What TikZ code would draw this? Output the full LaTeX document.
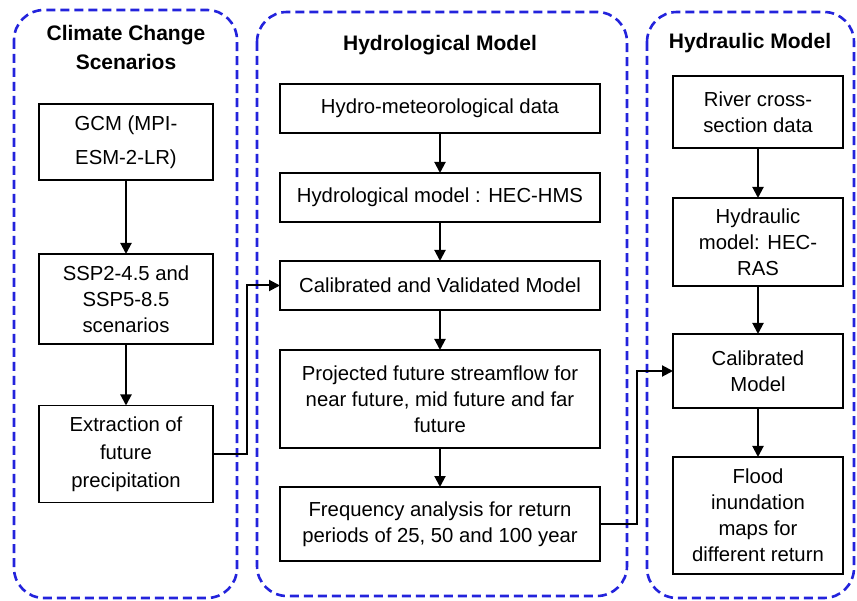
\documentclass[tikz,border=0pt]{standalone}
\usepackage{fontspec}
\setmainfont{Liberation Sans}
\usetikzlibrary{arrows.meta}
\definecolor{groupblue}{RGB}{35,35,220}
\tikzset{
  group/.style={draw=groupblue, line width=2.6pt, dash pattern=on 9pt off 5pt, rounded corners=30pt},
  title/.style={font=\fontsize{21}{29}\selectfont\bfseries, align=center, inner sep=0pt},
  box/.style={draw, line width=1.4pt, align=center, inner sep=0pt, outer sep=0pt,
    font=\fontsize{20.3}{26}\selectfont},
  flow/.style={line width=2pt, -{Triangle[length=11pt,width=11pt]}}
}
\begin{document}
\begin{tikzpicture}[x=1pt,y=-1pt]
      \useasboundingbox (0,0) rectangle (857,601);
      % the three groups
      \draw[group] (14,10) rectangle (237,598);
      \draw[group] (257,12) rectangle (627,596);
      \draw[group] (647,12) rectangle (854,598);
      \node[title] (t1) at (126,47) {Climate Change\\Scenarios};
      \node[title] (t2) at (440,45) {Hydrological Model};
      \node[title] (t3) at (750,43) {Hydraulic Model};
      % climate change scenarios
      \node[box, minimum width=174pt, minimum height=76pt] (gcm) at (126,142) {GCM (MPI-\\[8pt]ESM-2-LR)};
      \node[box, minimum width=174pt, minimum height=90pt] (ssp) at (126,299) {SSP2-4.5 and\\SSP5-8.5\\scenarios};
      \node[box, minimum width=174pt, minimum height=97pt] (extr) at (126,454) {Extraction of\\[2pt]future\\[2pt]precipitation};
      % hydrological model
      \node[box, minimum width=320pt, minimum height=49pt] (hydro) at (440,108.5) {Hydro-meteorological data};
      \node[box, minimum width=320pt, minimum height=49pt] (hms) at (440,197.5) {Hydrological model : HEC-HMS};
      \node[box, minimum width=320pt, minimum height=49pt] (calib) at (440,285.5) {Calibrated and Validated Model};
      \node[box, minimum width=320pt, minimum height=98pt] (proj) at (440,399) {Projected future streamflow for\\near future, mid future and far\\future};
      \node[box, minimum width=320pt, minimum height=74pt] (freq) at (440,524) {Frequency analysis for return\\periods of 25, 50 and 100 year};
      % hydraulic model
      \node[box, minimum width=170pt, minimum height=72pt] (river) at (758,112) {River cross-\\section data};
      \node[box, minimum width=170pt, minimum height=88pt] (hydr) at (758,242) {Hydraulic\\model: HEC-\\RAS};
      \node[box, minimum width=170pt, minimum height=74pt] (calm) at (758,371) {Calibrated\\Model};
      \node[box, minimum width=170pt, minimum height=117pt] (flood) at (758,515.5) {Flood\\inundation\\maps for\\different return};
      \begin{scope}[flow]
        \draw (gcm) to (ssp);
        \draw (ssp) to (extr);
        \draw (hydro) to (hms);
        \draw (hms) to (calib);
        \draw (calib) to (proj);
        \draw (proj) to (freq);
        \draw (river) to (hydr);
        \draw (hydr) to (calm);
        \draw (calm) to (flood);
        \draw (extr.east) -- ++(34,0) |- (calib.west);
        \draw (freq.east) -- ++(37,0) |- (calm.west);
      \end{scope}
    \end{tikzpicture}
\end{document}
